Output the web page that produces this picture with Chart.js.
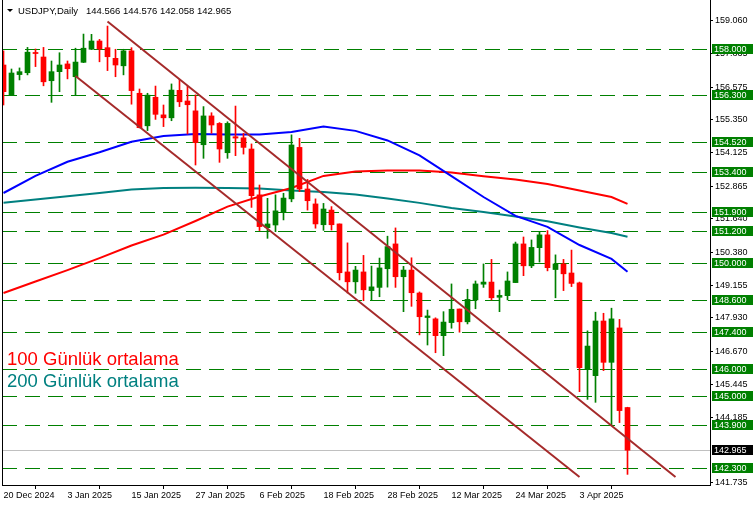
<!DOCTYPE html>
<html>
<head>
<meta charset="utf-8">
<script src="https://cdn.jsdelivr.net/npm/chart.js@4.4.1/dist/chart.umd.min.js"></script>
<style>
  html, body { margin: 0; padding: 0; background: #fff; }
  #wrap { width: 756px; height: 507px; }
</style>
</head>
<body>
<div id="wrap"><canvas id="chart" width="756" height="507"></canvas></div>
<script>
// daily bars, 20 Dec 2024 .. 11 Apr 2025
const dates = [
  '20 Dec 2024', '23 Dec 2024', '24 Dec 2024', '26 Dec 2024', '27 Dec 2024', '30 Dec 2024', '31 Dec 2024', '2 Jan 2025',
  '3 Jan 2025', '6 Jan 2025', '7 Jan 2025', '8 Jan 2025', '9 Jan 2025', '10 Jan 2025', '13 Jan 2025', '14 Jan 2025',
  '15 Jan 2025', '16 Jan 2025', '17 Jan 2025', '20 Jan 2025', '21 Jan 2025', '22 Jan 2025', '23 Jan 2025', '24 Jan 2025',
  '27 Jan 2025', '28 Jan 2025', '29 Jan 2025', '30 Jan 2025', '31 Jan 2025', '3 Feb 2025', '4 Feb 2025', '5 Feb 2025',
  '6 Feb 2025', '7 Feb 2025', '10 Feb 2025', '11 Feb 2025', '12 Feb 2025', '13 Feb 2025', '14 Feb 2025', '17 Feb 2025',
  '18 Feb 2025', '19 Feb 2025', '20 Feb 2025', '21 Feb 2025', '24 Feb 2025', '25 Feb 2025', '26 Feb 2025', '27 Feb 2025',
  '28 Feb 2025', '3 Mar 2025', '4 Mar 2025', '5 Mar 2025', '6 Mar 2025', '7 Mar 2025', '10 Mar 2025', '11 Mar 2025',
  '12 Mar 2025', '13 Mar 2025', '14 Mar 2025', '17 Mar 2025', '18 Mar 2025', '19 Mar 2025', '20 Mar 2025', '21 Mar 2025',
  '24 Mar 2025', '25 Mar 2025', '26 Mar 2025', '27 Mar 2025', '28 Mar 2025', '31 Mar 2025', '1 Apr 2025', '2 Apr 2025',
  '3 Apr 2025', '4 Apr 2025', '7 Apr 2025', '8 Apr 2025', '9 Apr 2025', '10 Apr 2025', '11 Apr 2025'
];

const opens = [
  157.41, 156.28, 157.05, 157.12, 157.88, 157.71, 156.82, 157.16, 157.45, 156.97,
  157.51, 158.00, 158.31, 158.06, 157.66, 157.38, 157.94, 156.35, 155.13, 156.20,
  155.54, 155.43, 156.46, 156.06, 155.69, 154.42, 155.50, 155.22, 154.12, 154.72,
  154.68, 154.26, 152.54, 151.31, 151.41, 151.89, 152.39, 154.32, 152.76, 152.20,
  151.42, 151.97, 151.45, 149.65, 149.28, 149.65, 148.95, 149.07, 149.77, 150.70,
  149.47, 149.72, 148.86, 147.94, 147.89, 147.26, 147.75, 148.26, 147.78, 148.60,
  149.19, 149.27, 148.70, 148.76, 149.25, 150.70, 149.88, 150.56, 151.04, 149.74,
  149.95, 149.61, 149.24, 146.00, 145.76, 147.81, 146.26, 147.55, 144.566
];
const highs = [
  157.94, 157.26, 157.30, 158.07, 158.01, 158.07, 157.56, 157.87, 157.56, 158.04,
  158.57, 158.56, 158.37, 158.87, 158.00, 158.00, 158.06, 156.51, 156.35, 156.62,
  155.91, 156.70, 156.87, 156.62, 156.29, 155.85, 155.62, 155.25, 155.28, 155.87,
  154.85, 154.45, 152.91, 152.41, 152.54, 152.60, 154.79, 154.66, 153.12, 152.39,
  152.22, 152.10, 151.45, 150.74, 149.86, 150.27, 149.87, 150.17, 150.99, 151.30,
  149.86, 150.18, 148.90, 148.22, 147.93, 148.16, 149.20, 148.26, 149.00, 149.31,
  149.95, 150.12, 148.97, 149.65, 150.77, 150.96, 150.85, 151.15, 151.20, 150.29,
  150.12, 150.47, 149.27, 147.44, 148.14, 148.10, 148.29, 147.87, 144.576
];
const lows = [
  155.91, 156.27, 156.85, 157.04, 157.35, 156.63, 156.01, 156.41, 156.89, 156.26,
  157.50, 157.99, 157.53, 157.20, 156.97, 157.04, 155.94, 155.05, 154.95, 155.37,
  155.10, 155.32, 155.85, 154.82, 153.66, 153.91, 154.85, 153.76, 153.91, 154.01,
  154.07, 152.07, 151.20, 150.91, 151.16, 151.60, 152.28, 152.66, 151.97, 151.29,
  151.21, 151.22, 149.35, 148.86, 148.85, 148.57, 148.60, 148.72, 149.08, 149.07,
  148.16, 148.36, 147.29, 146.91, 146.62, 146.51, 147.54, 147.39, 147.70, 148.27,
  149.07, 148.60, 148.16, 148.60, 149.25, 149.51, 149.81, 150.02, 149.69, 148.68,
  148.95, 149.10, 145.16, 144.87, 144.76, 145.95, 143.91, 144.00, 142.058
];
const closes = [
  156.41, 157.11, 157.16, 157.89, 157.84, 156.78, 157.16, 157.41, 157.27, 157.52,
  158.04, 158.31, 158.01, 157.72, 157.41, 157.94, 156.45, 155.06, 156.28, 155.56,
  155.43, 156.47, 156.03, 155.92, 154.50, 155.50, 155.16, 154.26, 155.22, 154.67,
  154.32, 152.51, 151.35, 151.45, 151.94, 152.42, 154.41, 152.76, 152.32, 151.45,
  152.01, 151.42, 149.62, 149.28, 149.72, 148.98, 149.09, 149.80, 150.60, 149.47,
  149.72, 148.87, 147.97, 148.00, 147.26, 147.77, 148.25, 147.78, 148.62, 149.20,
  149.27, 148.68, 148.77, 149.31, 150.70, 149.88, 150.57, 151.04, 149.81, 149.95,
  149.58, 149.22, 146.06, 146.87, 147.81, 146.26, 147.89, 144.45, 142.965
];

// moving averages, read every 4 bars
const maIdx = [0, 4, 8, 12, 16, 20, 24, 28, 32, 36, 40, 44, 48, 52, 56, 60, 64, 68, 72, 76, 78];
const maBlue = [152.61, 153.25, 153.78, 154.14, 154.53, 154.75, 154.82, 154.80, 154.80, 154.90, 155.10,
  154.94, 154.58, 154.02, 153.24, 152.46, 151.75, 151.34, 150.66, 150.14, 149.66];
const ma100 = [148.86, 149.29, 149.72, 150.17, 150.64, 151.05, 151.56, 152.10, 152.48, 152.80, 153.25,
  153.42, 153.45, 153.45, 153.38, 153.24, 153.12, 152.95, 152.70, 152.46, 152.20];
const ma200 = [152.24, 152.37, 152.49, 152.61, 152.74, 152.80, 152.81, 152.80, 152.78, 152.70, 152.65,
  152.55, 152.40, 152.24, 152.05, 151.90, 151.73, 151.55, 151.32, 151.11, 150.97];

// trend channel (bar index, price)
const chanUpperX = [13, 84];
const chanUpperY = [159.04, 141.96];
const chanLowerX = [9, 72];
const chanLowerY = [157.00, 141.96];

// horizontal levels and price axis ticks
const levels = [158.0, 156.3, 154.52, 153.4, 151.9, 151.2, 150.0, 148.6, 147.4, 146.0, 145.0, 143.9, 142.3];
const yTicks = [159.060, 157.835, 156.575, 155.350, 154.125, 152.865, 151.640, 150.380, 149.155,
  147.930, 146.670, 145.445, 144.185, 141.735];
const xTicks = [0, 8, 16, 24, 32, 40, 48, 56, 64, 72];

const symbol = 'USDJPY,Daily';
const legendTexts = ['100 Günlük ortalama', '200 Günlük ortalama'];

const GREEN = '#008000';
const RED = '#ff0000';
const FONT = '"Liberation Sans", Arial, sans-serif';

const candleColors = opens.map((o, i) => closes[i] >= o ? GREEN : RED);
const last = closes.length - 1;

const overlay = {
  id: 'overlay',
  beforeDatasetsDraw(chart) {
    const { ctx, chartArea: a, scales: { y } } = chart;
    ctx.save();
    ctx.beginPath();
    ctx.rect(a.left, a.top, a.right - a.left, a.bottom - a.top);
    ctx.clip();
    ctx.lineWidth = 1;
    ctx.strokeStyle = GREEN;
    ctx.setLineDash([15, 8]);
    levels.forEach(v => {
      const py = Math.round(y.getPixelForValue(v)) + 0.5;
      ctx.beginPath();
      ctx.moveTo(a.left, py);
      ctx.lineTo(a.right, py);
      ctx.stroke();
    });
    ctx.setLineDash([]);
    ctx.strokeStyle = '#c0c0c0';
    const pb = Math.round(y.getPixelForValue(closes[last])) + 0.5;
    ctx.beginPath();
    ctx.moveTo(a.left, pb);
    ctx.lineTo(a.right, pb);
    ctx.stroke();
    ctx.restore();
  },
  afterDraw(chart) {
    const { ctx, chartArea: a, scales: { y } } = chart;
    ctx.save();
    // left frame line
    ctx.strokeStyle = '#000';
    ctx.lineWidth = 1;
    ctx.beginPath();
    ctx.moveTo(a.left + 0.5, 0);
    ctx.lineTo(a.left + 0.5, a.bottom);
    ctx.stroke();

    // price labels on the right axis
    ctx.font = '9px ' + FONT;
    ctx.textBaseline = 'middle';
    const box = (v, bg) => {
      const py = Math.round(y.getPixelForValue(v));
      ctx.fillStyle = bg;
      ctx.fillRect(a.right + 2, py - 5, 41, 10);
      ctx.fillStyle = '#fff';
      ctx.fillText(v.toFixed(3), a.right + 4, py + 0.5);
    };
    levels.forEach(v => box(v, GREEN));
    box(closes[last], '#000');

    // header
    ctx.fillStyle = '#000';
    ctx.beginPath();
    ctx.moveTo(7, 9);
    ctx.lineTo(13, 9);
    ctx.lineTo(10, 12);
    ctx.closePath();
    ctx.fill();
    ctx.font = '9.5px ' + FONT;
    ctx.fillText(symbol, 18, 11);
    ctx.fillText([opens[last], highs[last], lows[last], closes[last]].map(v => v.toFixed(3)).join(' '), 86, 11);

    // indicator captions
    ctx.font = '18.5px ' + FONT;
    ctx.fillStyle = RED;
    ctx.fillText(legendTexts[0], 7, 360);
    ctx.fillStyle = '#008080';
    ctx.fillText(legendTexts[1], 7, 382);
    ctx.restore();
  }
};

const maLine = (vals, color) => ({
  type: 'line',
  data: maIdx.map((x, i) => ({ x, y: vals[i] })),
  borderColor: color,
  borderWidth: 2,
  pointRadius: 0,
  tension: 0,
  order: 3
});

const chanLine = (xs, ys) => ({
  type: 'line',
  data: xs.map((x, i) => ({ x, y: ys[i] })),
  borderColor: '#a52a2a',
  borderWidth: 2,
  pointRadius: 0,
  order: 0
});

new Chart(document.getElementById('chart'), {
  type: 'bar',
  data: {
    datasets: [
      chanLine(chanUpperX, chanUpperY),
      chanLine(chanLowerX, chanLowerY),
      {
        data: dates.map((d, i) => ({ x: i, y: [opens[i], closes[i]] })),
        backgroundColor: candleColors,
        barThickness: 5,
        minBarLength: 1,
        grouped: false,
        order: 1
      },
      {
        data: dates.map((d, i) => ({ x: i, y: [lows[i], highs[i]] })),
        backgroundColor: candleColors,
        barThickness: 1,
        grouped: false,
        order: 2
      },
      maLine(maBlue, '#0000ff'),
      maLine(ma100, RED),
      maLine(ma200, '#008080')
    ]
  },
  options: {
    responsive: false,
    animation: false,
    layout: { padding: { left: 2, right: 0, top: 0, bottom: 0 } },
    plugins: { legend: { display: false }, tooltip: { enabled: false } },
    scales: {
      x: {
        type: 'linear',
        offset: false,
        min: -0.1875,
        max: 88.3125,
        grid: { drawOnChartArea: false, color: '#000', tickLength: 4 },
        border: { color: '#000' },
        ticks: {
          autoSkip: false,
          maxRotation: 0,
          minRotation: 0,
          align: 'start',
          padding: 1,
          color: '#000',
          font: { family: FONT, size: 9 },
          callback: v => dates[v] || ''
        },
        afterBuildTicks: s => { s.ticks = xTicks.map(v => ({ value: v })); },
        afterFit: s => {
          s.height = 22;
          s.paddingLeft = 0; s.paddingRight = 0;
        }
      },
      y: {
        position: 'right',
        min: 141.66,
        max: 159.8475,
        grid: { drawOnChartArea: false, color: '#000', tickLength: 3 },
        border: { color: '#000' },
        ticks: {
          padding: 2,
          color: '#000',
          font: { family: FONT, size: 9 },
          callback: v => Number(v).toFixed(3)
        },
        afterBuildTicks: s => { s.ticks = yTicks.map(v => ({ value: v })); },
        afterFit: s => {
          s.width = 46;
          s.paddingTop = 0; s.paddingBottom = 0;
        }
      }
    }
  },
  plugins: [overlay]
});
</script>
</body>
</html>
